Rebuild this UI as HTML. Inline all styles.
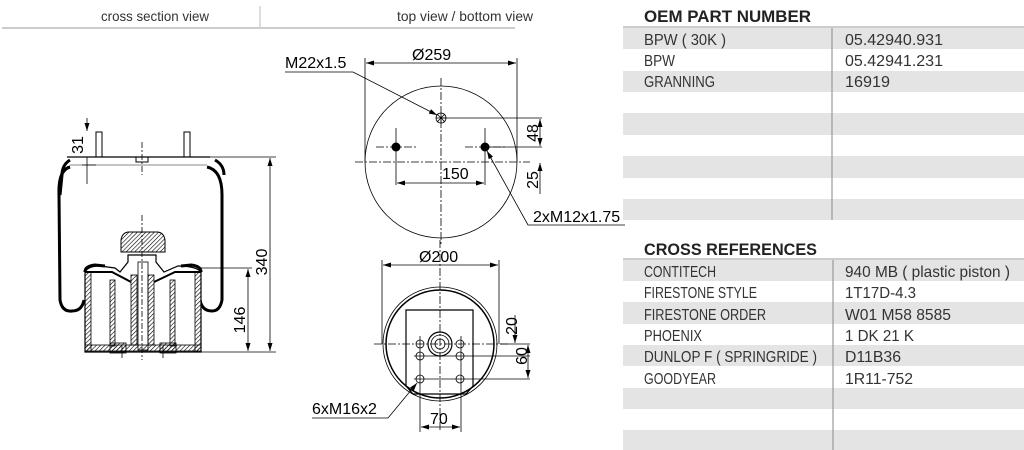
<!DOCTYPE html>
<html><head><meta charset="utf-8"><style>
html,body{margin:0;padding:0;background:#fff;}
body{width:1024px;height:450px;position:relative;overflow:hidden;font-family:"Liberation Sans",sans-serif;}
svg{position:absolute;left:0;top:0;}
</style></head><body>
<svg width="1024" height="450" viewBox="0 0 1024 450" xmlns="http://www.w3.org/2000/svg">
<defs>
<pattern id="h" width="3" height="3" patternUnits="userSpaceOnUse" patternTransform="rotate(45)"><line x1="0" y1="0" x2="0" y2="3" stroke="#000" stroke-width="1.2"/></pattern>
<marker id="a" markerWidth="8" markerHeight="6" refX="8" refY="3" orient="auto-start-reverse" markerUnits="userSpaceOnUse"><path d="M0,0.5 L8,3 L0,5.5 z" fill="#000"/></marker>
</defs>
<!-- header -->
<g font-size="14" fill="#333" text-anchor="middle">
<text x="155" y="21" textLength="108" lengthAdjust="spacingAndGlyphs">cross section view</text>
<text x="465" y="21" textLength="136" lengthAdjust="spacingAndGlyphs">top view / bottom view</text>
</g>
<line x1="2" y1="28" x2="515" y2="28" stroke="#999" stroke-width="1"/>
<line x1="260" y1="6" x2="260" y2="27" stroke="#bbb" stroke-width="1"/>

<!-- table -->
<g font-size="16.5" font-weight="bold" fill="#222"><text x="644" y="22" textLength="167" lengthAdjust="spacingAndGlyphs">OEM PART NUMBER</text><text x="644" y="255" textLength="173" lengthAdjust="spacingAndGlyphs">CROSS REFERENCES</text></g>
<line x1="623" y1="27" x2="1024" y2="27" stroke="#999"/>
<line x1="623" y1="259" x2="1024" y2="259" stroke="#999"/>
<g fill="#e4e4e4">
<rect x="623" y="28" width="401" height="21"/><rect x="623" y="71" width="401" height="21"/><rect x="623" y="113" width="401" height="22"/><rect x="623" y="156" width="401" height="22"/><rect x="623" y="199" width="401" height="21"/>
<rect x="623" y="260" width="401" height="21"/><rect x="623" y="302" width="401" height="22"/><rect x="623" y="345" width="401" height="21"/><rect x="623" y="388" width="401" height="21"/><rect x="623" y="430" width="401" height="20"/>
</g>
<line x1="832" y1="28" x2="832" y2="220" stroke="#999" stroke-width="1.2"/>
<line x1="833" y1="260" x2="833" y2="450" stroke="#999" stroke-width="1.2"/>
<g font-size="16" fill="#333" lengthAdjust="spacingAndGlyphs">
<text x="644" y="45" textLength="82" lengthAdjust="spacingAndGlyphs">BPW ( 30K )</text><text x="845" y="45" textLength="98" lengthAdjust="spacingAndGlyphs">05.42940.931</text>
<text x="644" y="66" textLength="31" lengthAdjust="spacingAndGlyphs">BPW</text><text x="845" y="66" textLength="98" lengthAdjust="spacingAndGlyphs">05.42941.231</text>
<text x="644" y="87" textLength="71" lengthAdjust="spacingAndGlyphs">GRANNING</text><text x="845" y="87" textLength="45" lengthAdjust="spacingAndGlyphs">16919</text>
<text x="644" y="277" textLength="72" lengthAdjust="spacingAndGlyphs">CONTITECH</text><text x="845" y="277" textLength="165" lengthAdjust="spacingAndGlyphs">940 MB ( plastic piston )</text>
<text x="644" y="298" textLength="113" lengthAdjust="spacingAndGlyphs">FIRESTONE STYLE</text><text x="845" y="298" textLength="71" lengthAdjust="spacingAndGlyphs">1T17D-4.3</text>
<text x="644" y="320" textLength="122" lengthAdjust="spacingAndGlyphs">FIRESTONE ORDER</text><text x="845" y="320" textLength="106" lengthAdjust="spacingAndGlyphs">W01 M58 8585</text>
<text x="644" y="341" textLength="58" lengthAdjust="spacingAndGlyphs">PHOENIX</text><text x="845" y="341" textLength="69" lengthAdjust="spacingAndGlyphs">1 DK 21 K</text>
<text x="644" y="362" textLength="173" lengthAdjust="spacingAndGlyphs">DUNLOP F ( SPRINGRIDE )</text><text x="845" y="362" textLength="56" lengthAdjust="spacingAndGlyphs">D11B36</text>
<text x="644" y="384" textLength="72" lengthAdjust="spacingAndGlyphs">GOODYEAR</text><text x="845" y="384" textLength="68" lengthAdjust="spacingAndGlyphs">1R11-752</text>
</g>

<!-- cross section -->
<g stroke="#000" fill="none">
<line x1="67" y1="157" x2="210" y2="157" stroke-width="1.2"/>
<line x1="70" y1="165" x2="207" y2="165" stroke="#888"/>
<rect x="96" y="132" width="6" height="25" stroke-width="1"/>
<rect x="184" y="132" width="6" height="25" stroke-width="1"/>
<rect x="136" y="157" width="12" height="5"/>
<path d="M70,160 Q62,165 62,175 L60,195 Q58,170 70,167 M215,160 Q224,165 224,175" stroke-width="3"/>
<path d="M70,167 Q58,170 59,195 L60,300 Q62,312 72,311 Q82,311 84,300 M207,167 Q222,170 222,195 L222,300 Q220,311 212,311 Q202,311 200,300" stroke-width="3"/>
<!-- piston -->
<path d="M85,352 L85,272 Q88,266 100,266 L115,268 L120,272 L128,262 L128,255 L156,255 L156,262 L164,272 L178,266 Q196,266 201,272 L201,352 Z" fill="#fff" stroke-width="1.2"/>
<rect x="85" y="272" width="6" height="80" fill="url(#h)" stroke-width="0.8"/>
<rect x="195" y="272" width="6" height="80" fill="url(#h)" stroke-width="0.8"/>
<rect x="110" y="280" width="5" height="66" fill="url(#h)" stroke-width="0.8"/>
<rect x="170" y="280" width="5" height="66" fill="url(#h)" stroke-width="0.8"/>
<rect x="131" y="275" width="6" height="70" fill="url(#h)" stroke-width="0.8"/>
<rect x="148" y="275" width="6" height="70" fill="url(#h)" stroke-width="0.8"/>
<rect x="138" y="262" width="10" height="88" stroke-width="0.8"/>
<path d="M85,272 L112,272 L131,282 M201,272 L175,272 L154,282" stroke-width="2"/>
<path d="M85,272 Q85,266 95,265 L105,266" stroke-width="3"/>
<path d="M201,272 Q201,266 191,265 L181,266" stroke-width="3"/>
<rect x="85" y="345" width="116" height="6" fill="url(#h)" stroke-width="0.8"/>
<rect x="110" y="343" width="16" height="10" fill="url(#h)" stroke-width="0.8"/>
<rect x="160" y="343" width="16" height="10" fill="url(#h)" stroke-width="0.8"/>
<path d="M121,252 L121,240 Q122,233 128,232 L158,232 Q164,233 165,240 L165,252 Z" fill="url(#h)" stroke-width="1"/>
<line x1="142" y1="215" x2="142" y2="360" stroke-dasharray="6,2,2,2" stroke-width="0.8"/>
<line x1="142" y1="142" x2="142" y2="175" stroke-dasharray="6,2,2,2" stroke-width="0.8"/>
<line x1="122" y1="346" x2="122" y2="358" stroke-width="0.8"/><line x1="163" y1="346" x2="163" y2="358" stroke-width="0.8"/>
<!-- dims -->
<g stroke-width="0.8">
<line x1="210" y1="157" x2="276" y2="157"/><line x1="201" y1="352" x2="276" y2="352"/><line x1="201" y1="268" x2="252" y2="268"/>
<line x1="270" y1="158" x2="270" y2="351" marker-start="url(#a)" marker-end="url(#a)"/>
<line x1="248" y1="269" x2="248" y2="351" marker-start="url(#a)" marker-end="url(#a)"/>
<line x1="87" y1="118" x2="87" y2="131" marker-end="url(#a)"/><line x1="87" y1="157" x2="87" y2="184"/>
<line x1="82" y1="165" x2="96" y2="165"/>
</g>
</g>
<g font-size="16" fill="#000" text-anchor="middle">
<text transform="translate(267,262) rotate(-90)">340</text>
<text transform="translate(245,320) rotate(-90)">146</text>
<text transform="translate(83,145) rotate(-90)">31</text>
</g>

<!-- top view -->
<g stroke="#000" fill="none" stroke-width="0.8">
<circle cx="441" cy="162" r="76"/>
<line x1="355" y1="162" x2="530" y2="162" stroke-dasharray="8,2,2,2"/>
<line x1="441" y1="78" x2="441" y2="245" stroke-dasharray="8,2,2,2"/>
<line x1="365" y1="58" x2="365" y2="162"/><line x1="517" y1="58" x2="517" y2="162"/>
<line x1="366" y1="63" x2="516" y2="63" marker-start="url(#a)" marker-end="url(#a)"/>
<circle cx="441" cy="118" r="5"/><path d="M437,114 L445,122 M445,114 L437,122 M441,113 V123 M436,118 H446"/>
<line x1="441" y1="118" x2="542" y2="118"/><line x1="485" y1="147" x2="542" y2="147"/>
<line x1="540" y1="119" x2="540" y2="146" marker-start="url(#a)" marker-end="url(#a)"/>
<line x1="540" y1="194" x2="540" y2="163" marker-end="url(#a)"/>
<line x1="376" y1="147" x2="417" y2="147" stroke-dasharray="8,2,2,2"/><line x1="396" y1="128" x2="396" y2="185"/>
<line x1="465" y1="147" x2="506" y2="147" stroke-dasharray="8,2,2,2"/><line x1="485" y1="128" x2="485" y2="185"/>
<line x1="397" y1="183" x2="484" y2="183" marker-start="url(#a)" marker-end="url(#a)"/>
<path d="M285,72 L353,72 L437,115" marker-end="url(#a)"/>
<path d="M625,225 L528,225 L487,151" marker-end="url(#a)"/>
</g>
<circle cx="396" cy="147" r="4.5"/><circle cx="485" cy="147" r="4.5"/>
<g font-size="16" fill="#000">
<text x="412" y="60">Ø259</text>
<text x="285" y="68">M22x1.5</text>
<text x="442" y="179">150</text>
<text transform="translate(538,133) rotate(-90)" text-anchor="middle">48</text>
<text transform="translate(538,180) rotate(-90)" text-anchor="middle">25</text>
<text x="533" y="222">2xM12x1.75</text>
</g>

<!-- bottom view -->
<g stroke="#000" fill="none" stroke-width="0.8">
<circle cx="440" cy="344" r="57"/><circle cx="440" cy="344" r="54" stroke-width="1.5"/>
<line x1="382" y1="260" x2="382" y2="344"/><line x1="499" y1="260" x2="499" y2="344"/>
<line x1="383" y1="265" x2="498" y2="265" marker-start="url(#a)" marker-end="url(#a)"/>
<line x1="440" y1="240" x2="440" y2="430" stroke-dasharray="8,2,2,2"/>
<line x1="374" y1="344" x2="510" y2="344" stroke-dasharray="8,2,2,2"/>
<path d="M406,386 L406,310 L473,310 L473,386 L466,394 L413,394 Z" stroke-width="1.2"/>
<circle cx="440" cy="344" r="12" stroke-width="1.2"/><circle cx="440" cy="344" r="9"/><circle cx="440" cy="344" r="5"/>
<g>
<circle cx="420" cy="344" r="4"/><circle cx="460" cy="344" r="4"/><circle cx="420" cy="356" r="4"/><circle cx="460" cy="356" r="4"/><circle cx="420" cy="379" r="4"/><circle cx="460" cy="379" r="4"/>
<line x1="414" y1="356" x2="530" y2="356"/><line x1="414" y1="379" x2="530" y2="379"/>
<line x1="420" y1="336" x2="420" y2="432"/><line x1="461" y1="336" x2="461" y2="432"/>
</g>
<line x1="421" y1="427" x2="460" y2="427" marker-start="url(#a)" marker-end="url(#a)"/>
<line x1="515" y1="315" x2="515" y2="343" marker-end="url(#a)"/>
<line x1="528" y1="345" x2="528" y2="378" marker-start="url(#a)" marker-end="url(#a)"/>
<line x1="500" y1="344" x2="530" y2="344"/>
<path d="M312,418 L388,418 L417,383" marker-end="url(#a)"/>
</g>
<g font-size="16" fill="#000">
<text x="419" y="262">Ø200</text>
<text x="430" y="424">70</text>
<text transform="translate(517,326) rotate(-90)" text-anchor="middle">20</text>
<text transform="translate(527,356) rotate(-90)" text-anchor="middle">60</text>
<text x="312" y="414">6xM16x2</text>
</g>
</svg>
</body></html>
